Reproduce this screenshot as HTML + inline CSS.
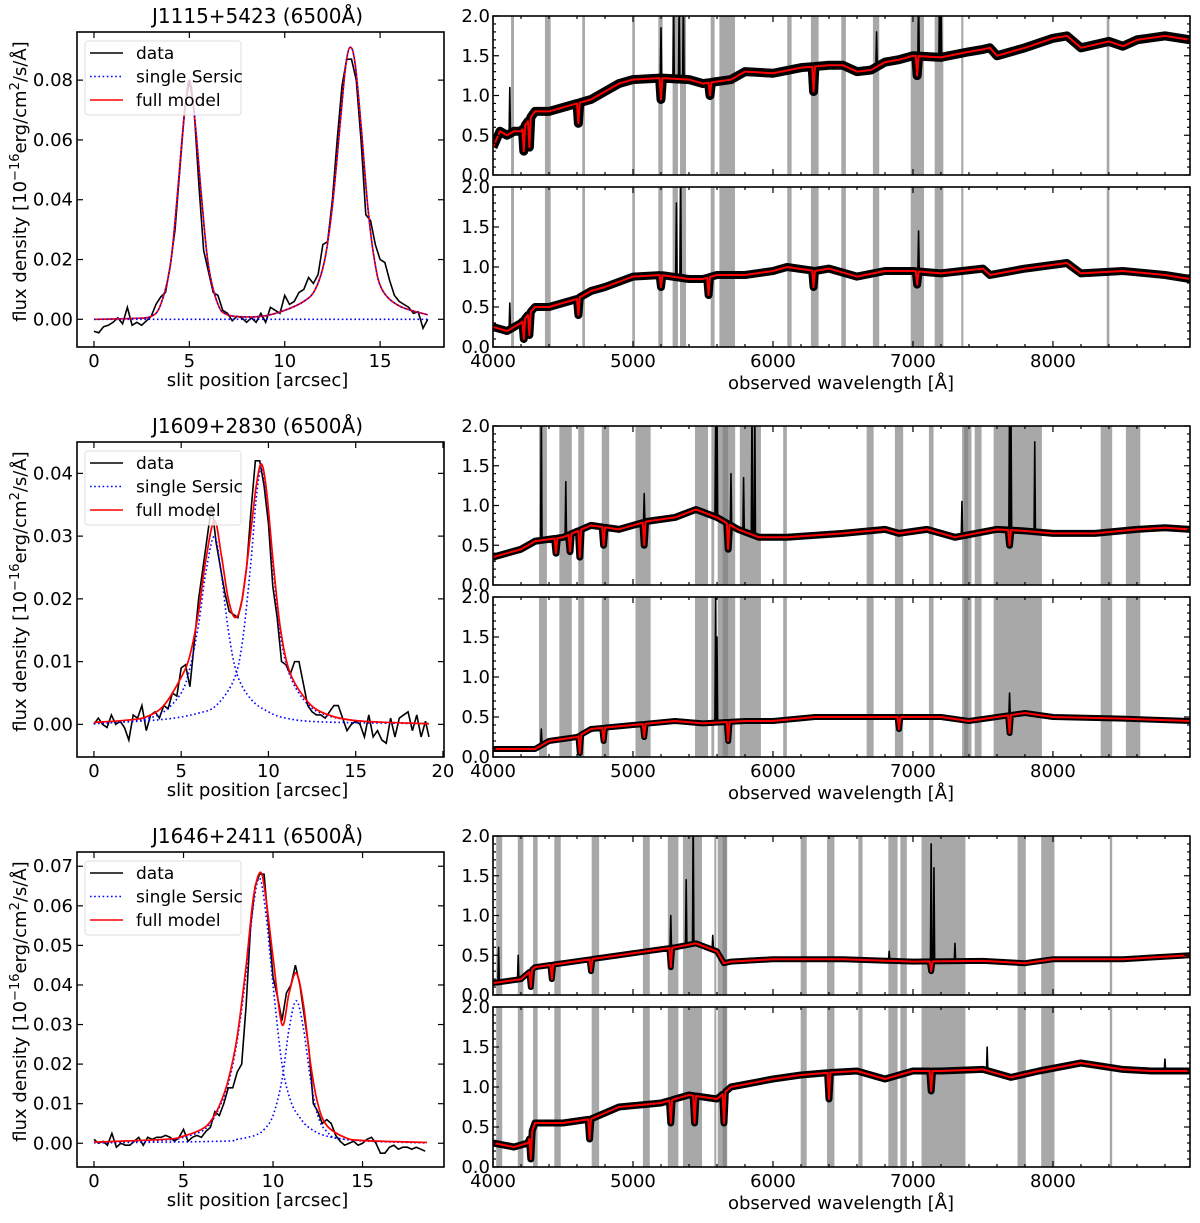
<!DOCTYPE html>
<html><head><meta charset="utf-8"><style>
html,body{margin:0;padding:0;background:#fff;}
svg{display:block;font-family:"DejaVu Sans","Liberation Sans",sans-serif;}
</style></head><body>
<svg id="fig" width="1200" height="1223" viewBox="0 0 1200 1223" xmlns="http://www.w3.org/2000/svg"></svg>
<script>
// ---------- Left panel data (slit profiles) ----------
const prof1Data = [-0.004,-0.0045,-0.0025,-0.002,-0.001,0.0005,-0.0015,0.004,-0.002,-0.001,-0.002,-0.0005,0.001,0.005,0.0075,0.009,0.018,0.03,0.05,0.07,0.08,0.07,0.045,0.023,0.016,0.009,0.008,0.003,0.002,-0.0005,0.001,0.0005,-0.001,0.0005,-0.001,0.002,-0.001,0.004,0.003,0.002,0.008,0.005,0.006,0.009,0.01,0.014,0.012,0.015,0.025,0.026,0.04,0.06,0.078,0.087,0.087,0.08,0.06,0.035,0.033,0.025,0.02,0.019,0.013,0.008,0.006,0.005,0.004,0.002,0.0025,-0.003,0];
const prof1FullX = [0,2,3,3.5,4,4.35,4.7,5.0,5.3,5.65,6,6.5,7,8,9,10,11,11.6,12.1,12.5,12.9,13.2,13.45,13.7,14,14.35,14.7,15.1,16,17.5];
const prof1FullY = [0,0.0003,0.001,0.005,0.018,0.04,0.066,0.080,0.066,0.04,0.018,0.005,0.0015,0.0008,0.0012,0.003,0.006,0.01,0.02,0.038,0.065,0.085,0.091,0.085,0.065,0.038,0.02,0.01,0.0045,0.0015];
const prof1SersicX = [0,17.5];
const prof1SersicY = [0,0];

const prof2Data = [0,0.001,0,-0.0005,0.0015,0,0.0005,-0.0005,-0.0025,0.0015,0.001,0.003,-0.001,0.0015,0.002,0.001,0.003,0.0025,0.005,0.0045,0.009,0.0095,0.006,0.013,0.02,0.025,0.03,0.035,0.029,0.025,0.021,0.018,0.0175,0.017,0.02,0.025,0.034,0.042,0.042,0.038,0.032,0.022,0.017,0.01,0.0095,0.008,0.01,0.01,0.0065,0.003,0.002,0.0015,0.0015,0.001,0.002,0.003,0.003,0.001,-0.001,0,0.0005,0,-0.002,0.0015,-0.002,-0.001,-0.0025,-0.003,0.001,-0.002,0.001,0.0015,0.002,-0.001,0.0015,-0.002,0.0005,-0.002];
const prof2FullX = [0,2,3,4,5,5.5,6,6.4,6.9,7.3,7.7,8.1,8.5,9,9.3,9.6,9.9,10.3,10.7,11.2,12,13,15,19.2];
const prof2FullY = [0.0003,0.0007,0.0012,0.003,0.0075,0.011,0.018,0.026,0.0325,0.027,0.02,0.017,0.02,0.031,0.038,0.0415,0.037,0.025,0.015,0.0085,0.0045,0.002,0.0006,0.0001];
const prof2C1X = [0,2,3,4,5,5.5,6,6.4,6.9,7.3,7.7,8.2,9,10,11,13,19.2];
const prof2C1Y = [0.0002,0.0005,0.0009,0.002,0.005,0.009,0.016,0.024,0.030,0.024,0.015,0.008,0.004,0.002,0.001,0.0004,0.0001];
const prof2C2X = [0,4,6,7,8,8.5,9,9.3,9.6,9.9,10.3,10.7,11.2,12,13,15,19.2];
const prof2C2Y = [0.0001,0.0008,0.0018,0.003,0.007,0.013,0.026,0.036,0.041,0.036,0.024,0.014,0.008,0.004,0.0018,0.0006,0.0001];

const prof3Data = [0.001,0,0.0005,-0.0005,0.0025,-0.001,0,-0.0005,-0.0005,0.0005,0.0015,-0.0005,0.0015,0.001,0.0015,0.0015,0.002,0.0015,0.0005,0.0015,0.0035,0.0005,0.0015,0.002,0.0015,0.003,0.004,0.008,0.007,0.01,0.014,0.014,0.018,0.02,0.035,0.055,0.065,0.068,0.068,0.055,0.042,0.037,0.031,0.038,0.04,0.045,0.04,0.032,0.024,0.01,0.008,0.005,0.006,0.005,0.002,0.0005,-0.0005,0,0.0005,-0.0005,0,0.001,0.0015,0,-0.0025,-0.0025,-0.001,-0.0005,-0.0015,-0.001,-0.001,-0.0015,-0.001,-0.0015,-0.002];
const prof3FullX = [0,4,5,6,6.5,7,7.5,8,8.5,8.9,9.3,9.6,10,10.5,10.9,11.3,11.7,12.1,12.5,13,14,15,18.6];
const prof3FullY = [0.0003,0.001,0.0018,0.0035,0.0055,0.0095,0.016,0.027,0.045,0.062,0.0685,0.062,0.047,0.030,0.038,0.043,0.035,0.02,0.01,0.0045,0.0015,0.0007,0.0002];
const prof3C1X = [0,4,5,6,6.5,7,7.5,8,8.5,8.9,9.25,9.6,10,10.5,11,11.5,12,13,15,18.6];
const prof3C1Y = [0.0002,0.0008,0.0015,0.003,0.005,0.009,0.015,0.026,0.043,0.060,0.067,0.058,0.04,0.02,0.0105,0.0065,0.004,0.0018,0.0006,0.0001];
const prof3C2X = [0,7,8,9,9.5,10,10.5,10.9,11.3,11.7,12.1,12.5,13,14,18.6];
const prof3C2Y = [0.0001,0.0005,0.001,0.002,0.0035,0.007,0.016,0.029,0.036,0.029,0.016,0.007,0.003,0.001,0.0001];

// ---------- Right panel data (spectra) ----------
const bands1 = [[4129,4150],[4371,4412],[4638,4657],[4995,5014],[5181,5212],[5283,5321],[5336,5379],[5555,5583],[5617,5729],[6102,6133],[6271,6326],[6488,6521],[6714,6759],[6984,7079],[7155,7217],[7345,7360],[8384,8403]];
const bands2 = [[4329,4385],[4474,4563],[4609,4652],[4777,4830],[5018,5126],[5443,5536],[5560,5580],[5605,5730],[5640,5680],[5763,5914],[6073,6099],[6669,6719],[6871,6930],[7114,7147],[7351,7418],[7365,7395],[7441,7490],[7576,7921],[8341,8423],[8521,8624]];
const bands3 = [[4023,4066],[4177,4217],[4286,4319],[4438,4484],[4705,4758],[5071,5120],[5249,5324],[5357,5493],[5581,5595],[5605,5673],[5640,5670],[6198,6241],[6386,6439],[6610,6640],[6824,6890],[6910,6956],[7061,7375],[7747,7806],[7916,8011],[8406,8423]];

const s1aWl = [4000,4050,4100,4150,4200,4300,4400,4500,4600,4700,4800,4900,5000,5200,5400,5500,5700,5800,6000,6200,6400,6500,6600,6700,6800,6900,7000,7200,7400,7500,7550,7600,7800,8000,8100,8200,8400,8500,8600,8800,8980];
const s1aFx = [0.35,0.55,0.5,0.55,0.55,0.8,0.8,0.85,0.9,0.95,1.05,1.15,1.2,1.22,1.2,1.15,1.2,1.3,1.28,1.35,1.38,1.38,1.3,1.32,1.42,1.45,1.5,1.48,1.55,1.58,1.6,1.5,1.6,1.72,1.75,1.6,1.68,1.62,1.7,1.75,1.7];
const s1aAbsWl = [4220,4260,4610,5200,5550,6290,7030];
const s1aAbsFx = [0.3,0.35,0.65,0.95,1.0,1.05,1.25];
const s1aEmWl = [4120,5200,5290,5330,5360,6740,7020,7040,7190,7200];
const s1aEmFx = [1.1,1.85,2.3,2.3,2.3,1.8,2.3,2.3,2.3,2.3];

const s1bWl = [4000,4100,4200,4300,4400,4500,4600,4700,4800,5000,5200,5400,5500,5600,5800,6000,6100,6300,6400,6600,6800,7000,7200,7500,7550,7800,8100,8200,8500,8800,8980];
const s1bFx = [0.25,0.2,0.3,0.5,0.5,0.55,0.6,0.7,0.75,0.88,0.9,0.85,0.85,0.9,0.9,0.95,1.0,0.95,0.98,0.88,0.95,0.95,0.92,0.98,0.9,0.98,1.05,0.92,0.95,0.9,0.85];
const s1bAbsWl = [4220,4260,4610,5200,5540,6290,7030];
const s1bAbsFx = [0.1,0.15,0.4,0.75,0.65,0.75,0.78];
const s1bEmWl = [4120,5310,5340,7040];
const s1bEmFx = [0.55,1.8,2.3,1.45];

const s2aWl = [4000,4200,4300,4500,4700,4900,5100,5300,5450,5600,5750,5900,6100,6500,6800,6900,7100,7300,7600,7800,8000,8300,8600,8800,8980];
const s2aFx = [0.35,0.45,0.55,0.6,0.75,0.7,0.8,0.85,0.95,0.85,0.7,0.6,0.6,0.65,0.7,0.65,0.7,0.6,0.7,0.68,0.65,0.65,0.7,0.72,0.7];
const s2aAbsWl = [4450,4550,4620,4790,5080,5680,7690];
const s2aAbsFx = [0.4,0.42,0.35,0.5,0.5,0.45,0.5];
const s2aEmWl = [4345,4520,5080,5590,5600,5700,5790,5850,5870,7350,7690,7700,7870];
const s2aEmFx = [2.3,1.3,1.15,2.3,2.3,1.4,1.35,2.3,2.3,1.05,2.3,2.3,1.8];

const s2bWl = [4000,4300,4400,4600,4700,5000,5300,5500,5800,6000,6300,6800,7200,7400,7600,7800,8000,8500,8980];
const s2bFx = [0.1,0.1,0.2,0.25,0.35,0.4,0.45,0.42,0.45,0.45,0.5,0.5,0.5,0.45,0.5,0.55,0.5,0.48,0.45];
const s2bAbsWl = [4620,4790,5080,5680,6900,7690];
const s2bAbsFx = [0.05,0.2,0.25,0.2,0.35,0.3];
const s2bEmWl = [4345,5590,5600,7690];
const s2bEmFx = [0.35,2.3,1.5,0.8];

const s3aWl = [4000,4200,4300,4500,4700,4900,5100,5300,5450,5600,5650,5700,6000,6500,7000,7500,7800,8000,8500,8980];
const s3aFx = [0.15,0.2,0.35,0.4,0.45,0.5,0.55,0.6,0.65,0.55,0.4,0.42,0.45,0.45,0.42,0.43,0.4,0.45,0.45,0.5];
const s3aAbsWl = [4270,4420,4700,5270,7130];
const s3aAbsFx = [0.1,0.2,0.3,0.35,0.3];
const s3aEmWl = [4040,4180,5270,5380,5430,5570,6830,7130,7150,7300];
const s3aEmFx = [0.6,0.5,1.0,1.45,2.3,0.75,0.55,1.9,1.6,0.65];

const s3bWl = [4000,4150,4250,4300,4500,4700,4900,5200,5400,5600,5700,6000,6200,6400,6600,6800,7000,7200,7500,7700,7900,8200,8500,8700,8980];
const s3bFx = [0.3,0.25,0.3,0.55,0.55,0.6,0.75,0.8,0.9,0.85,1.0,1.1,1.15,1.18,1.2,1.1,1.2,1.2,1.22,1.12,1.2,1.3,1.22,1.2,1.2];
const s3bAbsWl = [4270,4690,5270,5440,5650,6400,7130];
const s3bAbsFx = [0.1,0.35,0.55,0.55,0.55,0.85,0.95];
const s3bEmWl = [7530,8800];
const s3bEmFx = [1.5,1.35];

const xTicksL1 = [0,5,10,15];
const xTicksL2 = [0,5,10,15,20];
const xTicksL3 = [0,5,10,15];
const yTicksL1 = [0,0.02,0.04,0.06,0.08];
const yTicksL2 = [0,0.01,0.02,0.03,0.04];
const yTicksL3 = [0,0.01,0.02,0.03,0.04,0.05,0.06,0.07];
const xTicksR = [4000,5000,6000,7000,8000];
const yTicksR = [0,0.5,1.0,1.5,2.0];
const titles = ["J1115+5423 (6500Å)","J1609+2830 (6500Å)","J1646+2411 (6500Å)"];

// ---------- helpers ----------
const NS="http://www.w3.org/2000/svg";
const svg=document.getElementById('fig');
function mk(tag,attrs,parent){const e=document.createElementNS(NS,tag);for(const k in attrs)e.setAttribute(k,attrs[k]);(parent||svg).appendChild(e);return e;}
function scale(d0,d1,r0,r1){return v=>r0+(v-d0)/(d1-d0)*(r1-r0);}
function linePath(pts){return pts.map((p,i)=>(i?'L':'M')+p[0].toFixed(2)+' '+p[1].toFixed(2)).join('');}
function smoothPath(pts){
  let d='M'+pts[0][0].toFixed(2)+' '+pts[0][1].toFixed(2);
  for(let i=0;i<pts.length-1;i++){
    const p0=pts[i-1]||pts[i],p1=pts[i],p2=pts[i+1],p3=pts[i+2]||p2;
    const c1=[p1[0]+(p2[0]-p0[0])/6,p1[1]+(p2[1]-p0[1])/6];
    const c2=[p2[0]-(p3[0]-p1[0])/6,p2[1]-(p3[1]-p1[1])/6];
    d+='C'+c1[0].toFixed(2)+' '+c1[1].toFixed(2)+' '+c2[0].toFixed(2)+' '+c2[1].toFixed(2)+' '+p2[0].toFixed(2)+' '+p2[1].toFixed(2);
  }
  return d;
}
function interp(xs,ys,x){
  if(x<=xs[0])return ys[0];
  for(let i=1;i<xs.length;i++){if(x<=xs[i]){const t=(x-xs[i-1])/(xs[i]-xs[i-1]);return ys[i-1]+t*(ys[i]-ys[i-1]);}}
  return ys[ys.length-1];
}
let clipId=0;
function makeClip(x,y,w,h){const id='c'+(clipId++);const cp=mk('clipPath',{id:id});mk('rect',{x:x,y:y,width:w,height:h},cp);return id;}

// ---------- left profile panels ----------
function leftPanel(row,cfg){
  const oy=row*410;
  const L=77,R=444,T=32+oy,B=347+oy;
  const X=scale(cfg.xr[0],cfg.xr[1],L,R), Y=scale(cfg.yr[0],cfg.yr[1],B,T);
  const g=mk('g',{});
  
  
  const cid=makeClip(L,T,R-L,B-T);
  const plot=mk('g',{'clip-path':'url(#'+cid+')'},g);
  const dpts=cfg.data.map((v,i)=>[X(Math.min(i*0.25,cfg.dataEnd)),Y(v)]);
  const dl=mk('path',{d:linePath(dpts),fill:'none',stroke:'#000','stroke-width':1.6},plot);
  
  
  cfg.comps.forEach((c,k)=>{
    const pts=c[0].map((x,i)=>[X(x),Y(c[1][i])]);
    const p=mk('path',{d:c[0].length>2?smoothPath(pts):linePath(pts),fill:'none',stroke:'#0000ff','stroke-width':1.6,'stroke-dasharray':'1.6 2.6'},plot);
    
    
  });
  const fpts=cfg.full[0].map((x,i)=>[X(x),Y(cfg.full[1][i])]);
  const fl=mk('path',{d:smoothPath(fpts),fill:'none',stroke:'#ff0000','stroke-width':1.7},plot);
  
  
  if(cfg.overlayBlue){
    const ob=mk('path',{d:smoothPath(fpts),fill:'none',stroke:'#0000ff','stroke-width':1.4,'stroke-dasharray':'1.6 2.6'},plot);
    
    
  }
  const fr=mk('rect',{x:L,y:T,width:R-L,height:B-T,fill:'none',stroke:'#000','stroke-width':1.6},g);
  
  
  cfg.xt.forEach(t=>{
    const x=X(t);
    mk('line',{x1:x,y1:B,x2:x,y2:B-6,stroke:'#000','stroke-width':1.2},g);
    mk('line',{x1:x,y1:T,x2:x,y2:T+6,stroke:'#000','stroke-width':1.2},g);
    const tx=mk('text',{x:x,y:B+20,'text-anchor':'middle','font-size':18},g);
    tx.textContent=String(t);
    
    
  });
  cfg.yt.forEach(t=>{
    const y=Y(t);
    mk('line',{x1:L,y1:y,x2:L+6,y2:y,stroke:'#000','stroke-width':1.2},g);
    mk('line',{x1:R,y1:y,x2:R-6,y2:y,stroke:'#000','stroke-width':1.2},g);
    const tx=mk('text',{x:L-4,y:y+6,'text-anchor':'end','font-size':18},g);
    tx.textContent=t.toFixed(2);
    
    
  });
  const xt=mk('text',{x:(L+R)/2-3,y:B+39,'text-anchor':'middle','font-size':18},g);
  xt.textContent='slit position [arcsec]';
  
  
  const yt=mk('text',{x:0,y:0,'text-anchor':'middle','font-size':18,transform:'translate(26,'+((T+B)/2-8)+') rotate(-90)'},g);
  yt.innerHTML='flux density [10<tspan dy="-7" font-size="13">−16</tspan><tspan dy="7">erg/cm</tspan><tspan dy="-7" font-size="13">2</tspan><tspan dy="7">/s/Å]</tspan>';
  
  
  const ti=mk('text',{x:(L+R)/2-3,y:T-9,'text-anchor':'middle','font-size':20},g);
  ti.textContent=titles[row];
  
  
  const lg=mk('g',{},g);
  
  
  mk('rect',{x:85,y:T+9,width:156,height:74,rx:3,fill:'#fff','fill-opacity':0.8,stroke:'#ddd','stroke-width':1},lg);
  const items=[['data','#000',null],['single Sersic','#0000ff','1.6 2.6'],['full model','#ff0000',null]];
  items.forEach((it,i)=>{
    const y=T+21+i*23.5;
    const ln=mk('line',{x1:90,y1:y,x2:123,y2:y,stroke:it[1],'stroke-width':1.6},lg);
    if(it[2])ln.setAttribute('stroke-dasharray',it[2]);
    const tx=mk('text',{x:136,y:y+6,'font-size':17},lg);
    tx.textContent=it[0];
    
    
  });
}

leftPanel(0,{xr:[-0.89,18.35],yr:[-0.00926,0.0961],xt:xTicksL1,yt:yTicksL1,data:prof1Data,dataEnd:17.5,full:[prof1FullX,prof1FullY],comps:[[prof1SersicX,prof1SersicY]],overlayBlue:true});
leftPanel(1,{xr:[-0.97,20.06],yr:[-0.0052,0.045],xt:xTicksL2,yt:yTicksL2,data:prof2Data,dataEnd:19.2,full:[prof2FullX,prof2FullY],comps:[[prof2C1X,prof2C1Y],[prof2C2X,prof2C2Y]]});
leftPanel(2,{xr:[-0.95,19.55],yr:[-0.006,0.0736],xt:xTicksL3,yt:yTicksL3,data:prof3Data,dataEnd:18.6,full:[prof3FullX,prof3FullY],comps:[[prof3C1X,prof3C1Y],[prof3C2X,prof3C2Y]]});

// ---------- right spectrum panels ----------
function buildSpec(wl,fx,absWl,absFx,emWl,emFx,withEm){
  const feats=[];
  absWl.forEach((w,i)=>feats.push([w,absFx[i],10]));
  if(withEm)emWl.forEach((w,i)=>feats.push([w,emFx[i],5]));
  feats.sort((a,b)=>a[0]-b[0]);
  let pts=wl.map((w,i)=>[w,fx[i]]);
  feats.forEach(f=>{
    pts=pts.filter(p=>p[0]<f[0]-f[2]||p[0]>f[0]+f[2]);
    pts.push([f[0]-f[2],interp(wl,fx,f[0]-f[2])],[f[0],f[1]],[f[0]+f[2],interp(wl,fx,f[0]+f[2])]);
    pts.sort((a,b)=>a[0]-b[0]);
  });
  return pts;
}
function rightPanel(row,sub,bands,spec,name,band){
  const oy=row*410;
  const L=493,R=1190;
  const T=(sub?187:16)+oy, B=(sub?347:175)+oy;
  const X=scale(4000,8979,L,R), Y=scale(0,2,B,T);
  const g=mk('g',{});
  
  
  const cid=makeClip(L,T,R-L,B-T);
  const plot=mk('g',{'clip-path':'url(#'+cid+')'},g);
  bands.forEach(b=>{
    const r=mk('rect',{x:X(b[0]),y:T,width:X(b[1])-X(b[0]),height:B-T,fill:'#7f7f7f','fill-opacity':0.68},plot);
    
    
  });
  const cont=buildSpec(spec[0],spec[1],spec[2],spec[3],[],[],false);
  const bb=mk('path',{d:linePath(cont.map(p=>[X(p[0]),Y(p[1])])),fill:'none',stroke:'#000','stroke-width':band,'stroke-linejoin':'round'},plot);
  
  
  const black=buildSpec(spec[0],spec[1],spec[2],spec[3],spec[4],spec[5],true);
  const bl=mk('path',{d:linePath(black.map(p=>[X(p[0]),Y(p[1])])),fill:'none',stroke:'#000','stroke-width':1.6,'stroke-linejoin':'round'},plot);
  
  
  const rl=mk('path',{d:linePath(cont.map(p=>[X(p[0]),Y(p[1])])),fill:'none',stroke:'#ff0000','stroke-width':2,'stroke-linejoin':'round'},plot);
  
  
  mk('rect',{x:L,y:T,width:R-L,height:B-T,fill:'none',stroke:'#000','stroke-width':1.6},g);
  for(let w=4000;w<=8979;w+=200){
    const x=X(w), major=(w%1000===0), len=major?6:3;
    mk('line',{x1:x,y1:B,x2:x,y2:B-len,stroke:'#000','stroke-width':1.2},g);
    mk('line',{x1:x,y1:T,x2:x,y2:T+len,stroke:'#000','stroke-width':1.2},g);
  }
  for(let k=0;k<=20;k++){
    const y=Y(k/10), major=(k%5===0), len=major?6:3;
    mk('line',{x1:L,y1:y,x2:L+len,y2:y,stroke:'#000','stroke-width':1.2},g);
    mk('line',{x1:R,y1:y,x2:R-len,y2:y,stroke:'#000','stroke-width':1.2},g);
  }
  yTicksR.forEach(t=>{
    const tx=mk('text',{x:L-3,y:Y(t)+6,'text-anchor':'end','font-size':18},g);
    tx.textContent=t.toFixed(1);
    
    
  });
  if(sub){
    xTicksR.forEach(t=>{
      const tx=mk('text',{x:X(t),y:B+20,'text-anchor':'middle','font-size':18},g);
      tx.textContent=String(t);
      
      
    });
    const xt=mk('text',{x:841,y:B+42,'text-anchor':'middle','font-size':18},g);
    xt.textContent='observed wavelength [Å]';
    
    
  }
}
rightPanel(0,0,bands1,[s1aWl,s1aFx,s1aAbsWl,s1aAbsFx,s1aEmWl,s1aEmFx],'spectrum-panel-1-top',9);
rightPanel(0,1,bands1,[s1bWl,s1bFx,s1bAbsWl,s1bAbsFx,s1bEmWl,s1bEmFx],'spectrum-panel-1-bottom',8);
rightPanel(1,0,bands2,[s2aWl,s2aFx,s2aAbsWl,s2aAbsFx,s2aEmWl,s2aEmFx],'spectrum-panel-2-top',7);
rightPanel(1,1,bands2,[s2bWl,s2bFx,s2bAbsWl,s2bAbsFx,s2bEmWl,s2bEmFx],'spectrum-panel-2-bottom',6);
rightPanel(2,0,bands3,[s3aWl,s3aFx,s3aAbsWl,s3aAbsFx,s3aEmWl,s3aEmFx],'spectrum-panel-3-top',6);
rightPanel(2,1,bands3,[s3bWl,s3bFx,s3bAbsWl,s3bAbsFx,s3bEmWl,s3bEmFx],'spectrum-panel-3-bottom',7);
</script>
</body></html>
